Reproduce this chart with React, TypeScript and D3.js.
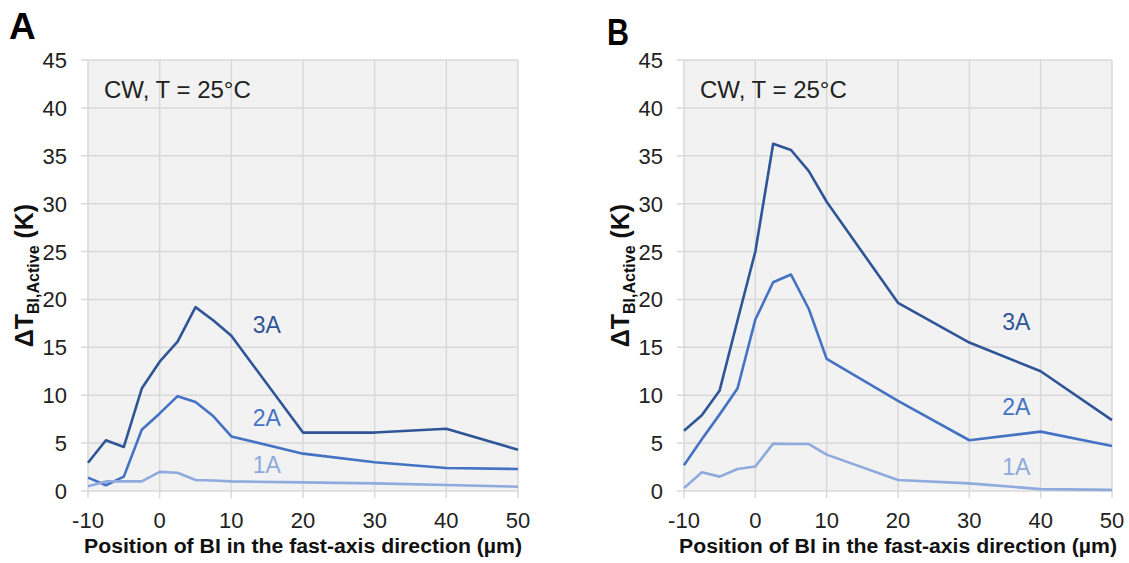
import * as d3 from "d3";

// positions of the beam in the fast-axis direction (µm)
const positions = [-10, -7.5, -5, -2.5, 0, 2.5, 5, 7.5, 10, 20, 30, 40, 50];

// panel A
const a3A = [2.95, 5.3, 4.6, 10.7, 13.5, 15.6, 19.2, 17.8, 16.2, 6.1, 6.1, 6.5, 4.3];
const a2A = [1.4, 0.6, 1.5, 6.4, 8.1, 9.9, 9.3, 7.8, 5.7, 3.9, 3.0, 2.4, 2.3];
const a1A = [0.5, 1.0, 1.0, 1.0, 2.0, 1.9, 1.15, 1.1, 1.0, 0.9, 0.8, 0.62, 0.45];

// panel B
const b3A = [6.3, 7.9, 10.5, 17.8, 25.0, 36.25, 35.6, 33.4, 30.2, 19.65, 15.5, 12.5, 7.4];
const b2A = [2.7, 5.4, 8.0, 10.7, 17.9, 21.8, 22.6, 19.0, 13.8, 9.4, 5.3, 6.2, 4.7];
const b1A = [0.3, 1.95, 1.5, 2.3, 2.55, 4.95, 4.9, 4.9, 3.8, 1.15, 0.8, 0.2, 0.12];

const seriesNames = ["3A", "2A", "1A"];
const xTicks = [-10, 0, 10, 20, 30, 40, 50];
const yTicks = [0, 5, 10, 15, 20, 25, 30, 35, 40, 45];

const colors: Record<string, string> = {
  "3A": "#2f5597",
  "2A": "#4472c4",
  "1A": "#8faadc",
};

const font = "'Liberation Sans', Arial, Helvetica, sans-serif";
const TOP = 60;
const BOTTOM = 491;

type PanelProps = {
  letter: string;
  left: number;
  right: number;
  values: number[][];
  labelX: number;
  labelY: number[];
  letterX: number;
  letterY: number;
};

function Panel({ letter, left, right, values, labelX, labelY, letterX, letterY }: PanelProps) {
  const x = d3.scaleLinear().domain([-10, 50]).range([left, right]);
  const y = d3.scaleLinear().domain([0, 45]).range([BOTTOM, TOP]);
  const line = d3
    .line<number>()
    .x((_, i) => x(positions[i]))
    .y((d) => y(d));
  const cx = (left + right) / 2;
  const cy = (TOP + BOTTOM) / 2;

  return (
    <g>
      <text x={letterX} y={letterY} fontFamily={font} fontWeight="bold" fontSize={37}
        textLength={letter === "B" ? 22 : undefined} lengthAdjust="spacingAndGlyphs">
        {letter}
      </text>
      <rect x={left} y={TOP} width={right - left} height={BOTTOM - TOP} fill="#f2f2f2" />
      {yTicks.map((t) => (
        <line key={"y" + t} x1={left - 7} x2={right} y1={y(t)} y2={y(t)} stroke="#d9d9d9" strokeWidth={1.5} />
      ))}
      {xTicks.map((t) => (
        <line key={"x" + t} x1={x(t)} x2={x(t)} y1={TOP} y2={BOTTOM + 7} stroke="#d9d9d9" strokeWidth={1.5} />
      ))}
      {yTicks.map((t) => (
        <text key={"yl" + t} x={left - 21} y={y(t) + 8} textAnchor="end" fontFamily={font} fontSize={22} fill="#222">
          {t}
        </text>
      ))}
      {xTicks.map((t) => (
        <text key={"xl" + t} x={x(t)} y={528} textAnchor="middle" fontFamily={font} fontSize={22} fill="#222">
          {t}
        </text>
      ))}
      <text x={left + 16} y={98} fontFamily={font} fontSize={24} fill="#222">
        CW, T = 25°C
      </text>
      {values.map((v, i) => (
        <path key={seriesNames[i]} d={line(v) ?? ""} fill="none" stroke={colors[seriesNames[i]]}
          strokeWidth={2.6} strokeLinejoin="round" />
      ))}
      {seriesNames.map((s, i) => (
        <text key={"l" + s} x={x(labelX)} y={y(labelY[i])} fontFamily={font} fontSize={23} fill={colors[s]}>
          {s}
        </text>
      ))}
      <text x={cx} y={553} textAnchor="middle" fontFamily={font} fontWeight="bold" fontSize={20}
        textLength={438} lengthAdjust="spacingAndGlyphs" fill="#111">
        Position of BI in the fast-axis direction (µm)
      </text>
      <text transform={`translate(${left - 55},${cy}) rotate(-90)`} textAnchor="middle" fontFamily={font}
        fontWeight="bold" fill="#111">
        <tspan fontSize={25}>ΔT</tspan>
        <tspan fontSize={16} dy={6}>BI,Active</tspan>
        <tspan fontSize={25} dy={-6}> (K)</tspan>
      </text>
    </g>
  );
}

export default function App() {
  return (
    <svg width={1129} height={563} style={{ position: "absolute", left: 0, top: 0, background: "#fff" }}>
      <Panel letter="A" left={88} right={518} values={[a3A, a2A, a1A]} labelX={13} labelY={[16.5, 6.8, 1.9]}
        letterX={9} letterY={39} />
      <Panel letter="B" left={684} right={1112} values={[b3A, b2A, b1A]} labelX={34.6} labelY={[16.8, 7.9, 1.7]}
        letterX={607} letterY={45} />
    </svg>
  );
}
